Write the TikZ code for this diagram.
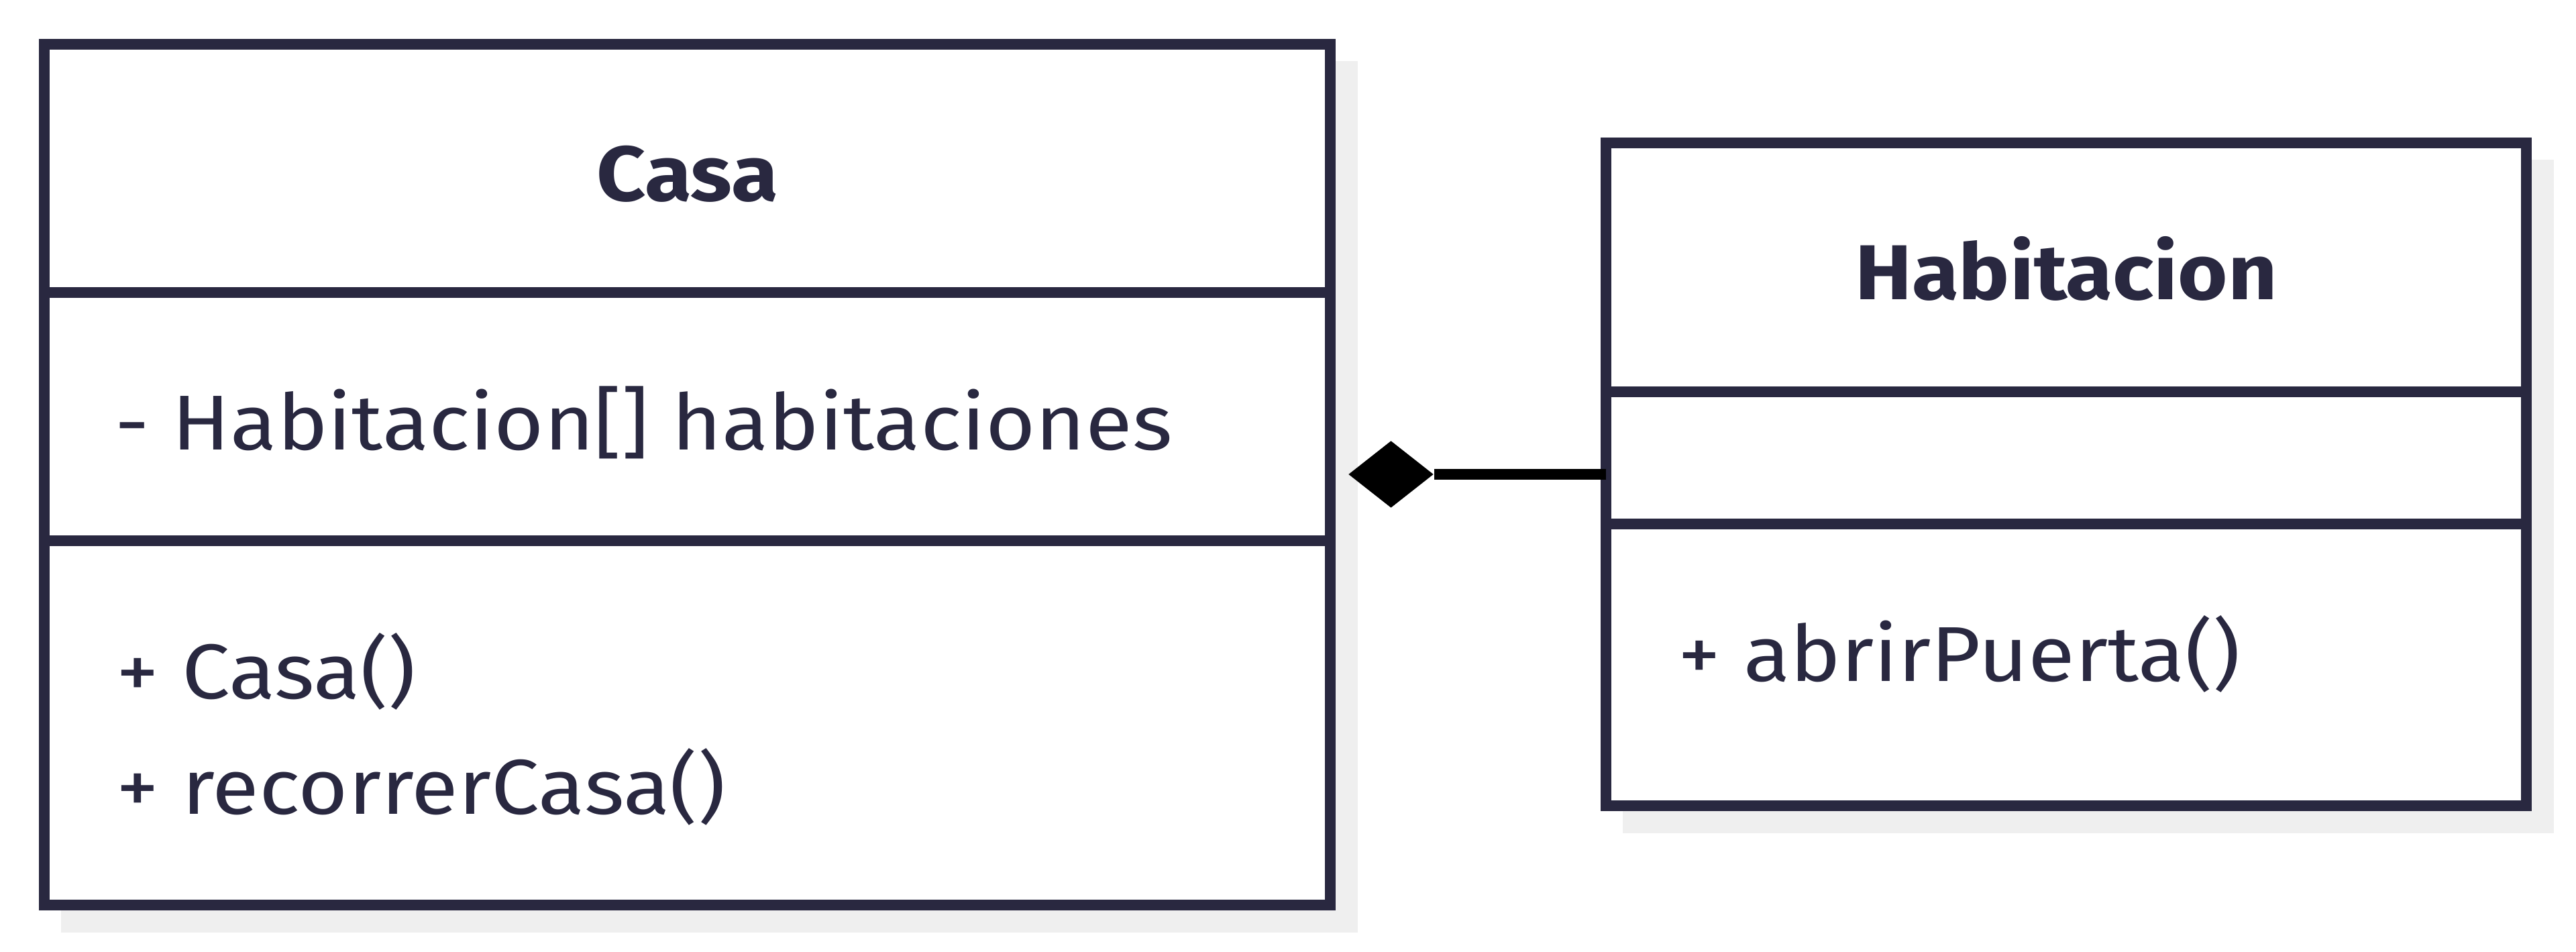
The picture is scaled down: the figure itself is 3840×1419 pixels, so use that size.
\documentclass[tikz,border=0pt]{standalone}
\usepackage{fontspec}
\setmainfont[FakeStretch=1.1]{Fira Sans}
\usetikzlibrary{shapes.geometric,backgrounds}
\definecolor{ink}{RGB}{41,40,64}
\definecolor{shadowgray}{RGB}{239,239,239}
\begin{document}
\begin{tikzpicture}[x=0.25pt,y=-0.25pt,
  classbox/.style={draw=ink, line width=4pt, fill=white, inner sep=0pt, outer sep=0pt},
  boxshadow/.style={fill=shadowgray},
  divider/.style={draw=ink, line width=4pt},
  title/.style={text=ink, inner sep=0pt, anchor=base, font=\fontsize{29pt}{34pt}\selectfont\bfseries},
  member/.style={text=ink, inner sep=0pt, anchor=base west, font=\fontsize{29pt}{34pt}\selectfont},
  compo/.style={diamond, fill=black, inner sep=0pt, minimum width=31.75pt, minimum height=25pt},
  link/.style={draw=black, line width=4pt}]
\useasboundingbox (0,0) rectangle (3840,1419);
% class boxes
\node[classbox, minimum width=479.25pt, minimum height=320.75pt] (casa) at (1024.5,707.5) {};
\node[classbox, minimum width=343pt, minimum height=247pt] (hab) at (3080,707) {};
\begin{scope}[on background layer]
  \fill[boxshadow] ([shift={(25,25)}]casa.north west) rectangle ([shift={(41,41)}]casa.south east);
  \fill[boxshadow] ([shift={(25,25)}]hab.north west) rectangle ([shift={(41,41)}]hab.south east);
\end{scope}
% dividers
\coordinate (c1l) at (66,436); \coordinate (c1r) at (1983,436);
\coordinate (c2l) at (66,806); \coordinate (c2r) at (1983,806);
\coordinate (h1l) at (2394,584); \coordinate (h1r) at (3766,584);
\coordinate (h2l) at (2394,781); \coordinate (h2r) at (3766,781);
\draw[divider] (c1l) -- (c1r);
\draw[divider] (c2l) -- (c2r);
\draw[divider] (h1l) -- (h1r);
\draw[divider] (h2l) -- (h2r);
% texts
\node[title] (casaT) at (1024.5,300) {Casa};
\node[member] (casaA) at (171,671) {- Habitacion[] habitaciones};
\node[member] (casaM1) at (173,1042) {+ Casa()};
\node[member] (casaM2) at (173,1214) {+ recorrerCasa()};
\node[title] (habT) at (3080,447) {Habitacion};
\node[member] (habM1) at (2501,1016) {+ abrirPuerta()};
% composition
\node[compo] (comp) at (2073.5,707) {};
\draw[link] (comp.east) -- (hab.west);
\end{tikzpicture}
\end{document}
